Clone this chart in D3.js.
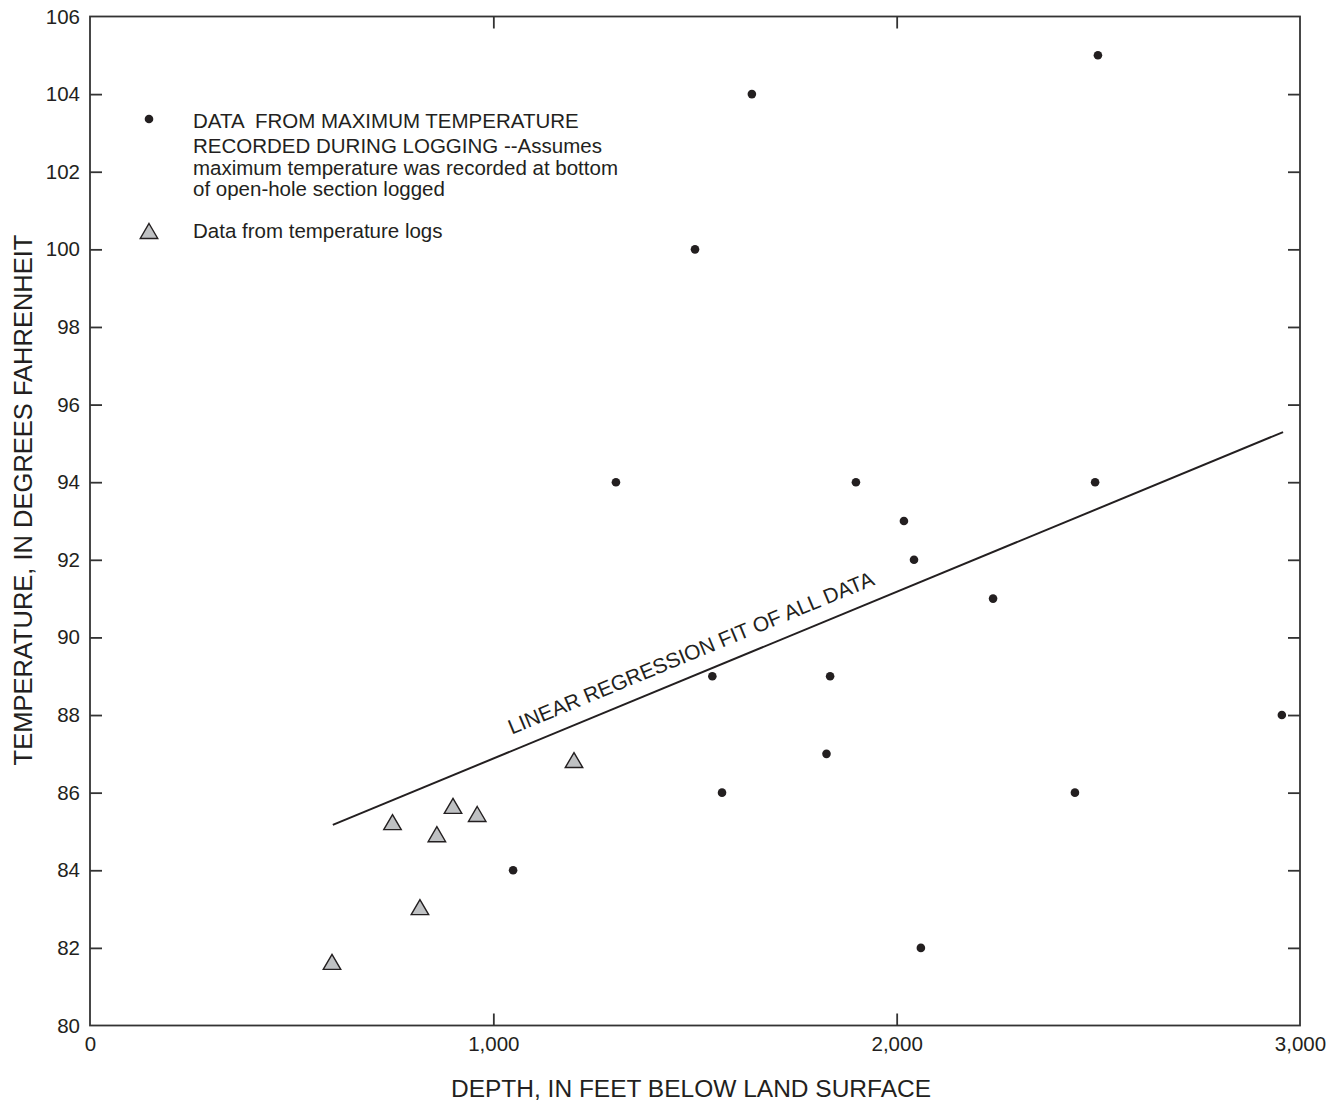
<!DOCTYPE html>
<html>
<head>
<meta charset="utf-8">
<script src="https://cdn.jsdelivr.net/npm/d3@7"></script>
<style>
  html, body { margin: 0; padding: 0; background: #fff; }
  svg { display: block; }
  text { font-family: "Liberation Sans", Arial, Helvetica, sans-serif; fill: #231f20; white-space: pre; }
</style>
</head>
<body>
<svg id="chart" width="1333" height="1101"></svg>
<script>
// ---- Data ----
const dotDepth = [1641, 2499, 1500, 1304, 1899, 2018, 2043, 2239, 2492, 1543, 1835, 1826, 1567, 2442, 2955, 1049, 2060];
const dotTemp  = [104, 105, 100, 94, 94, 93, 92, 91, 94, 89, 89, 87, 86, 86, 88, 84, 82];

const triDepth = [600, 750, 818, 860, 900, 960, 1200];
const triTemp  = [81.64, 85.24, 83.05, 84.93, 85.66, 85.45, 86.84];

const lineDepth = [602, 2958];
const lineTemp  = [85.17, 95.29];

const xTickValues = [0, 1000, 2000, 3000];
const xTickLabels = ["0", "1,000", "2,000", "3,000"];
const yTickValues = [80, 82, 84, 86, 88, 90, 92, 94, 96, 98, 100, 102, 104, 106];
const yTickLabels = ["80", "82", "84", "86", "88", "90", "92", "94", "96", "98", "100", "102", "104", "106"];

const legendDotLines = [
  "DATA  FROM MAXIMUM TEMPERATURE",
  "RECORDED DURING LOGGING --Assumes",
  "maximum temperature was recorded at bottom",
  "of open-hole section logged"
];
const legendTriLabel = "Data from temperature logs";
const regressionLabel = "LINEAR REGRESSION FIT OF ALL DATA";
const xTitle = "DEPTH, IN FEET BELOW LAND SURFACE";
const yTitle = "TEMPERATURE, IN DEGREES FAHRENHEIT";

(function () {
// ---- Layout ----
const svg = d3.select("#chart");
const pLeft = 90, pRight = 1300, pTop = 16.5, pBottom = 1025.5;
const x = d3.scaleLinear().domain([0, 3000]).range([pLeft, pRight]);
const y = d3.scaleLinear().domain([80, 106]).range([pBottom, pTop]);
const ink = "#231f20";
const tickLen = 12;
const fontFam = '"Liberation Sans", Arial, Helvetica, sans-serif';

// Frame
svg.append("rect")
  .attr("x", pLeft).attr("y", pTop)
  .attr("width", pRight - pLeft).attr("height", pBottom - pTop)
  .attr("fill", "none").attr("stroke", "#333").attr("stroke-width", 1.8);

// Axes with inner ticks
const yAxisL = d3.axisLeft(y).tickValues(yTickValues).tickSize(-tickLen).tickPadding(10)
  .tickFormat((d, i) => yTickLabels[i]);
const gL = svg.append("g").attr("transform", `translate(${pLeft},0)`).call(yAxisL);

const yAxisR = d3.axisRight(y).tickValues(yTickValues.slice(1, -1)).tickSize(-tickLen).tickFormat("");
const gR = svg.append("g").attr("transform", `translate(${pRight},0)`).call(yAxisR);

const xAxisB = d3.axisBottom(x).tickValues(xTickValues).tickSize(-tickLen).tickPadding(11)
  .tickFormat((d, i) => xTickLabels[i]);
const gB = svg.append("g").attr("transform", `translate(0,${pBottom})`).call(xAxisB);

const xAxisT = d3.axisTop(x).tickValues(xTickValues.slice(1, -1)).tickSize(-tickLen).tickFormat("");
const gT = svg.append("g").attr("transform", `translate(0,${pTop})`).call(xAxisT);

[gL, gR, gB, gT].forEach(g => {
  g.select(".domain").remove();
  g.selectAll(".tick line").attr("stroke", "#333").attr("stroke-width", 1.8);
  g.selectAll("text").style("font-size", "20.5px").attr("fill", ink).style("font-family", fontFam);
});
gL.selectAll(".tick").filter(d => d === 80 || d === 106).select("line").remove();
gB.selectAll(".tick").filter(d => d === 0 || d === 3000).select("line").remove();

// Regression line
const lineData = lineDepth.map((d, i) => [d, lineTemp[i]]);
svg.append("path")
  .attr("d", d3.line().x(d => x(d[0])).y(d => y(d[1]))(lineData))
  .attr("fill", "none").attr("stroke", ink).attr("stroke-width", 2);

// Regression label along the line
const labelDepth = 1060;
const tFrac = (labelDepth - lineDepth[0]) / (lineDepth[1] - lineDepth[0]);
const labelTemp = lineTemp[0] + tFrac * (lineTemp[1] - lineTemp[0]);
const angle = Math.atan2(y(lineTemp[1]) - y(lineTemp[0]), x(lineDepth[1]) - x(lineDepth[0])) * 180 / Math.PI;
svg.append("text")
  .attr("transform", `translate(${x(labelDepth)},${y(labelTemp)}) rotate(${angle})`)
  .attr("dy", -15)
  .style("font-size", "21px")
  .text(regressionLabel);

// Triangles
function triPath(cx, cy, w, h) {
  const p = d3.path();
  p.moveTo(cx, cy - h / 2);
  p.lineTo(cx + w / 2, cy + h / 2);
  p.lineTo(cx - w / 2, cy + h / 2);
  p.closePath();
  return p.toString();
}
svg.append("g").selectAll("path")
  .data(triDepth.map((d, i) => [d, triTemp[i]]))
  .join("path")
  .attr("d", d => triPath(x(d[0]), y(d[1]), 17.5, 15))
  .attr("fill", "#bfc1c3").attr("stroke", ink).attr("stroke-width", 1.4);

// Dots
svg.append("g").selectAll("circle")
  .data(dotDepth.map((d, i) => [d, dotTemp[i]]))
  .join("circle")
  .attr("cx", d => x(d[0])).attr("cy", d => y(d[1]))
  .attr("r", 4.3).attr("fill", ink);

// Legend
const lg = svg.append("g");
lg.append("circle").attr("cx", 149).attr("cy", 119).attr("r", 4.3).attr("fill", ink);
const legendBaselines = [128, 153, 174.5, 195.5];
const lt = lg.append("text").style("font-size", "20.5px").attr("xml:space", "preserve");
legendDotLines.forEach((t, i) => {
  lt.append("tspan").attr("x", 193).attr("y", legendBaselines[i]).text(t);
});
lg.append("path").attr("d", triPath(149, 231, 17.5, 15))
  .attr("fill", "#bfc1c3").attr("stroke", ink).attr("stroke-width", 1.4);
lg.append("text").attr("x", 193).attr("y", 237.5)
  .style("font-size", "20.5px").text(legendTriLabel);

// Axis titles
svg.append("text")
  .attr("x", 691).attr("y", 1097)
  .attr("text-anchor", "middle")
  .style("font-size", "24.5px")
  .text(xTitle);
svg.append("text")
  .attr("transform", `translate(32,500) rotate(-90)`)
  .attr("text-anchor", "middle")
  .style("font-size", "25.5px")
  .text(yTitle);
})();
</script>
</body>
</html>
